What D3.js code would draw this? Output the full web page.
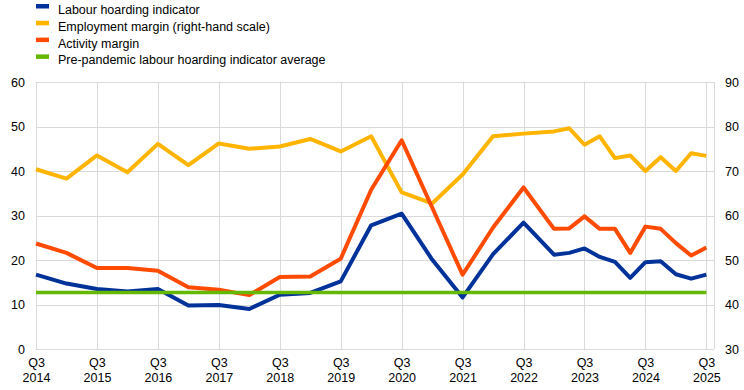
<!DOCTYPE html>
<html>
<head>
<meta charset="utf-8">
<script src="https://cdn.jsdelivr.net/npm/d3@7"></script>
<style>
  body { margin: 0; background: #fff; }
  svg text { font-family: Arial, "Liberation Sans", sans-serif; font-size: 12.5px; fill: #000; }
</style>
</head>
<body>
<svg id="chart" width="744" height="390"></svg>
<script>
// periods: semi-annual until 2023 Q1, quarterly afterwards
var periods = ["2014Q3", "2015Q1", "2015Q3", "2016Q1", "2016Q3", "2017Q1", "2017Q3", "2018Q1",
  "2018Q3", "2019Q1", "2019Q3", "2020Q1", "2020Q3", "2021Q1", "2021Q3", "2022Q1", "2022Q3",
  "2023Q1", "2023Q2", "2023Q3", "2023Q4", "2024Q1", "2024Q2", "2024Q3", "2024Q4",
  "2025Q1", "2025Q2", "2025Q3"];

// left-hand scale
var labourHoarding = [16.7, 14.7, 13.5, 12.9, 13.5, 9.8, 9.9, 9.0, 12.2, 12.6, 15.2, 27.8, 30.4, 20.1,
  11.6, 21.3, 28.4, 21.2, 21.6, 22.6, 20.7, 19.6, 16.0, 19.5, 19.7, 16.8, 15.8, 16.7];
var activityMargin = [23.7, 21.6, 18.2, 18.2, 17.6, 13.9, 13.3, 12.1, 16.2, 16.3, 20.3, 35.8, 46.9, 31.8,
  16.7, 27.3, 36.3, 27.0, 27.1, 29.8, 27.0, 27.0, 21.6, 27.5, 27.0, 23.8, 21.0, 22.8];
// right-hand scale
var employmentMargin = [70.4, 68.3, 73.5, 69.7, 76.1, 71.3, 76.2, 75.0, 75.5, 77.2, 74.4, 77.8, 65.2, 62.7,
  69.2, 77.8, 78.4, 78.9, 79.6, 75.9, 77.8, 72.9, 73.5, 70.0, 73.1, 70.0, 74.0, 73.4];
var prePandemicAverage = 12.7;

var xTicks = ["2014Q3", "2015Q3", "2016Q3", "2017Q3", "2018Q3", "2019Q3", "2020Q3", "2021Q3",
  "2022Q3", "2023Q3", "2024Q3", "2025Q3"];
var leftTicks = [0, 10, 20, 30, 40, 50, 60];
var rightTicks = [30, 40, 50, 60, 70, 80, 90];

var legendItems = [
  { label: "Labour hoarding indicator", color: "#003299" },
  { label: "Employment margin (right-hand scale)", color: "#ffb400" },
  { label: "Activity margin", color: "#ff4b00" },
  { label: "Pre-pandemic labour hoarding indicator average", color: "#65b800" }
];

// quarter number counted from 2014 Q3
function qIndex(p) {
  return (+p.slice(0, 4) - 2014) * 4 + (+p.slice(5) - 3);
}

var svg = d3.select("#chart"),
    margin = { left: 36, right: 30, top: 82, bottom: 41 },
    width = 744 - margin.left - margin.right,
    height = 390 - margin.top - margin.bottom;

var x = d3.scaleLinear().domain([0, 44.5]).range([margin.left, margin.left + width]);
var yLeft = d3.scaleLinear().domain([0, 60]).range([margin.top + height, margin.top]);
var yRight = d3.scaleLinear().domain([30, 90]).range([margin.top + height, margin.top]);

// gridlines
var grid = svg.append("g").attr("stroke", "#d9d9d9").attr("stroke-width", 1);
grid.selectAll(".hgrid").data(leftTicks).enter().append("line")
  .attr("x1", x(0)).attr("x2", x(44.5))
  .attr("y1", function(d) { return Math.round(yLeft(d)) + 0.5; })
  .attr("y2", function(d) { return Math.round(yLeft(d)) + 0.5; });
grid.selectAll(".vgrid").data(xTicks.map(qIndex).concat([44.5])).enter().append("line")
  .attr("x1", function(d) { return Math.round(x(d)) + 0.5; })
  .attr("x2", function(d) { return Math.round(x(d)) + 0.5; })
  .attr("y1", yLeft(60)).attr("y2", yLeft(0));

// axes, drawn with d3 axis then stripped of domain and tick lines
var leftAxis = svg.append("g")
  .attr("transform", "translate(" + (margin.left - 11) + ",0)")
  .call(d3.axisLeft(yLeft).tickValues(leftTicks).tickSize(0).tickPadding(0));
var rightAxis = svg.append("g")
  .attr("transform", "translate(" + (margin.left + width + 11) + ",0)")
  .call(d3.axisRight(yRight).tickValues(rightTicks).tickSize(0).tickPadding(0));
[leftAxis, rightAxis].forEach(function(a) {
  a.select(".domain").remove();
  a.selectAll("text").attr("fill", null);
  a.attr("font-size", null).attr("font-family", null);
});

var xAxis = svg.append("g")
  .attr("transform", "translate(0," + (margin.top + height) + ")")
  .call(d3.axisBottom(x).tickValues(xTicks.map(qIndex)).tickSize(0).tickFormat(""));
xAxis.select(".domain").remove();
xAxis.attr("font-size", null).attr("font-family", null);
xAxis.selectAll(".tick").each(function(d, i) {
  var t = d3.select(this).select("text")
    .attr("fill", null).attr("y", 0).attr("dy", null)
    .attr("text-anchor", "middle");
  t.append("tspan").attr("x", 0).attr("y", 18).text("Q3");
  t.append("tspan").attr("x", 0).attr("y", 32.5).text(xTicks[i].slice(0, 4));
});

// lines
function series(values) {
  return values.map(function(v, i) { return { q: qIndex(periods[i]), v: v }; });
}
function drawLine(data, yScale, color, w) {
  svg.append("path")
    .datum(data)
    .attr("fill", "none")
    .attr("stroke", color)
    .attr("stroke-width", w)
    .attr("stroke-linejoin", "round")
    .attr("d", d3.line()
      .x(function(d) { return x(d.q); })
      .y(function(d) { return yScale(d.v); }));
}

drawLine(series(employmentMargin), yRight, "#ffb400", 4);
drawLine(series(activityMargin), yLeft, "#ff4b00", 4);
drawLine(series(labourHoarding), yLeft, "#003299", 4);
drawLine([{ q: qIndex(periods[0]), v: prePandemicAverage },
          { q: qIndex(periods[periods.length - 1]), v: prePandemicAverage }], yLeft, "#65b800", 3.5);

// legend
var legend = svg.append("g").selectAll("g").data(legendItems).enter().append("g")
  .attr("transform", function(d, i) { return "translate(36," + (i * 16.8) + ")"; });
legend.append("rect")
  .attr("x", 0).attr("y", 4).attr("width", 13).attr("height", 4.5)
  .attr("fill", function(d) { return d.color; });
legend.append("text")
  .attr("x", 22).attr("y", 14)
  .text(function(d) { return d.label; });
</script>
</body>
</html>
